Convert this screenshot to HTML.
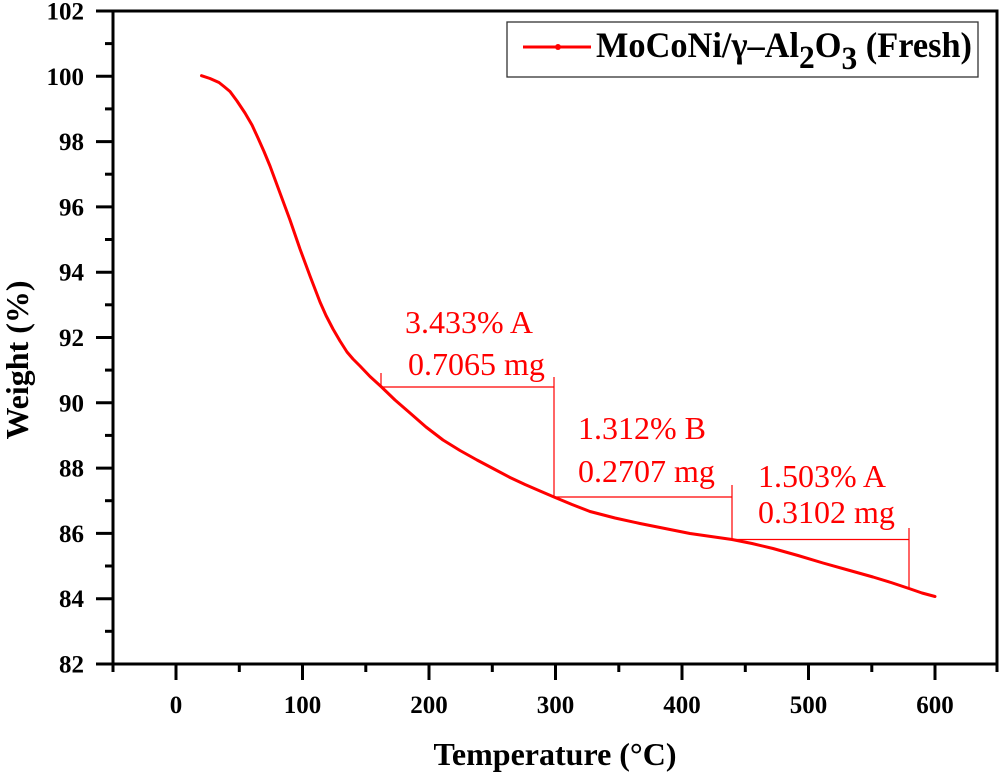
<!DOCTYPE html>
<html>
<head>
<meta charset="utf-8">
<style>
  html, body { margin: 0; padding: 0; background: #ffffff; }
  svg { display: block; }
  .tick { font-family: "Liberation Serif", "Times New Roman", serif; font-weight: bold; font-size: 25px; fill: #000; }
  .title { font-family: "Liberation Serif", "Times New Roman", serif; font-weight: bold; font-size: 32px; fill: #000; }
  .ann { font-family: "Liberation Serif", "Times New Roman", serif; font-size: 32px; fill: #ff0000; }
  .leg { font-family: "Liberation Serif", "Times New Roman", serif; font-weight: bold; font-size: 36px; fill: #000; }
</style>
</head>
<body>
<svg width="1000" height="772" viewBox="0 0 1000 772" xmlns="http://www.w3.org/2000/svg">
  <rect width="1000" height="772" fill="#fff"/>

  <!-- curve -->
  <polyline fill="none" stroke="#ff0000" stroke-width="3" stroke-linejoin="round" stroke-linecap="round"
    points="201.5,75.7 210,78.5 219,82.5 224,86.5 230,91.5 237,101 245,113 252,125 258,138 264,151.5 270,166 275,179.5 280,193 285,206.5 290,220 295,234.5 300,249 305,262.5 310,276 315,289 320,302 326,315.5 333,329 340,341 347,352 353,359 360,366 370,376.5 381,386.5 395,400 410,413 426,427 443,440 460,450.5 477,460 494,469 510,477.5 525,484.5 540,491 554,497 572,504.5 590,511.5 615,518 640,523.5 665,528.5 690,533.5 711,536.5 732,539.5 752,543.5 773,548.5 798,555.5 823,563 848,570 873,577 891,582.5 909,588.5 922,593 935,596.5"/>

  <!-- annotation brackets -->
  <g stroke="#ff0000" stroke-width="1.2" fill="none">
    <path d="M381,373 V387 H554"/>
    <path d="M554,377 V497 H732"/>
    <path d="M732,485 V539.5 H909"/>
    <path d="M909,528 V588"/>
  </g>
  <text class="ann" x="405" y="333">3.433% A</text>
  <text class="ann" x="408" y="375">0.7065 mg</text>
  <text class="ann" x="578" y="439">1.312% B</text>
  <text class="ann" x="578" y="482">0.2707 mg</text>
  <text class="ann" x="758" y="487">1.503% A</text>
  <text class="ann" x="758" y="523">0.3102 mg</text>

  <!-- axes frame -->
  <rect x="113" y="11" width="884" height="653" fill="none" stroke="#000" stroke-width="3"/>

  <!-- y ticks -->
  <g stroke="#000" stroke-width="3">
    <line x1="96" y1="11" x2="113" y2="11"/>
    <line x1="105" y1="43.6" x2="113" y2="43.6"/>
    <line x1="96" y1="76.3" x2="113" y2="76.3"/>
    <line x1="105" y1="108.9" x2="113" y2="108.9"/>
    <line x1="96" y1="141.6" x2="113" y2="141.6"/>
    <line x1="105" y1="174.2" x2="113" y2="174.2"/>
    <line x1="96" y1="206.9" x2="113" y2="206.9"/>
    <line x1="105" y1="239.5" x2="113" y2="239.5"/>
    <line x1="96" y1="272.2" x2="113" y2="272.2"/>
    <line x1="105" y1="304.8" x2="113" y2="304.8"/>
    <line x1="96" y1="337.5" x2="113" y2="337.5"/>
    <line x1="105" y1="370.1" x2="113" y2="370.1"/>
    <line x1="96" y1="402.8" x2="113" y2="402.8"/>
    <line x1="105" y1="435.4" x2="113" y2="435.4"/>
    <line x1="96" y1="468.1" x2="113" y2="468.1"/>
    <line x1="105" y1="500.7" x2="113" y2="500.7"/>
    <line x1="96" y1="533.4" x2="113" y2="533.4"/>
    <line x1="105" y1="566" x2="113" y2="566"/>
    <line x1="96" y1="598.7" x2="113" y2="598.7"/>
    <line x1="105" y1="631.3" x2="113" y2="631.3"/>
    <line x1="96" y1="664" x2="113" y2="664"/>
  </g>
  <g class="tick" text-anchor="end">
    <text x="84" y="19.5">102</text>
    <text x="84" y="84.8">100</text>
    <text x="84" y="150.1">98</text>
    <text x="84" y="215.4">96</text>
    <text x="84" y="280.7">94</text>
    <text x="84" y="346">92</text>
    <text x="84" y="411.3">90</text>
    <text x="84" y="476.6">88</text>
    <text x="84" y="541.9">86</text>
    <text x="84" y="607.2">84</text>
    <text x="84" y="672.5">82</text>
  </g>

  <!-- x ticks -->
  <g stroke="#000" stroke-width="3">
    <line x1="113" y1="664" x2="113" y2="672"/>
    <line x1="176" y1="664" x2="176" y2="680"/>
    <line x1="239.3" y1="664" x2="239.3" y2="672"/>
    <line x1="302.5" y1="664" x2="302.5" y2="680"/>
    <line x1="365.8" y1="664" x2="365.8" y2="672"/>
    <line x1="429" y1="664" x2="429" y2="680"/>
    <line x1="492.3" y1="664" x2="492.3" y2="672"/>
    <line x1="555.5" y1="664" x2="555.5" y2="680"/>
    <line x1="618.8" y1="664" x2="618.8" y2="672"/>
    <line x1="682" y1="664" x2="682" y2="680"/>
    <line x1="745.3" y1="664" x2="745.3" y2="672"/>
    <line x1="808.5" y1="664" x2="808.5" y2="680"/>
    <line x1="871.8" y1="664" x2="871.8" y2="672"/>
    <line x1="935" y1="664" x2="935" y2="680"/>
    <line x1="997" y1="664" x2="997" y2="672"/>
  </g>
  <g class="tick" text-anchor="middle">
    <text x="176" y="713">0</text>
    <text x="302.5" y="713">100</text>
    <text x="429" y="713">200</text>
    <text x="555.5" y="713">300</text>
    <text x="682" y="713">400</text>
    <text x="808.5" y="713">500</text>
    <text x="935" y="713">600</text>
  </g>

  <!-- axis titles -->
  <text class="title" x="555" y="765" text-anchor="middle">Temperature (°C)</text>
  <text class="title" transform="translate(28,360) rotate(-90)" text-anchor="middle">Weight (%)</text>

  <!-- legend -->
  <rect x="507" y="22" width="471" height="55" fill="#fff" stroke="#333" stroke-width="1.3"/>
  <line x1="523" y1="47" x2="591" y2="47" stroke="#ff0000" stroke-width="3"/>
  <circle cx="558" cy="47" r="3" fill="#ff0000"/>
  <text class="leg" x="596" y="57" textLength="376" lengthAdjust="spacingAndGlyphs">MoCoNi/γ–Al<tspan font-size="33" dy="11">2</tspan><tspan dy="-11">O</tspan><tspan font-size="33" dy="12">3</tspan><tspan dy="-12"> (Fresh)</tspan></text>
</svg>
</body>
</html>
